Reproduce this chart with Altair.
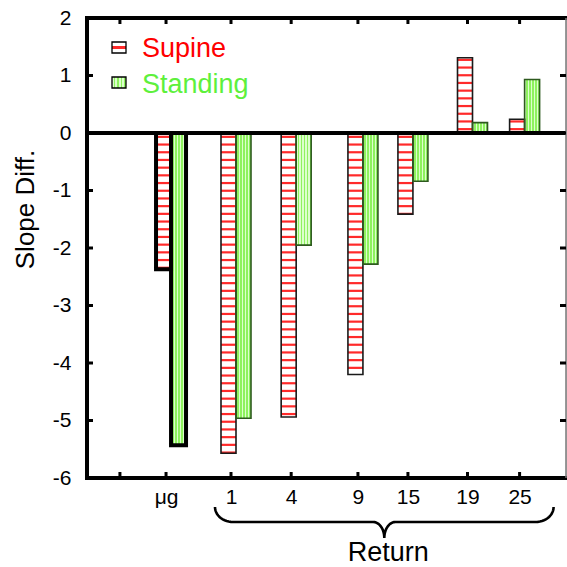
import altair as alt
import numpy as np
import pandas as pd

# ---------------- data ----------------
groups = ["μg", "1", "4", "9", "15", "19", "25"]
group_pos = [1.32, 2.405, 3.41, 4.525, 5.36, 6.355, 7.225]
blank_tick_pos = [0.55]
supine = [-2.37, -5.57, -4.94, -4.20, -1.41, 1.31, 0.24]
standing = [-5.43, -4.96, -1.95, -2.28, -0.84, 0.18, 0.93]
series_names = ["Supine", "Standing"]
y_tick_values = [-6, -5, -4, -3, -2, -1, 0, 1, 2]
y_inner_ticks = [-5, -4, -3, -2, -1, 0, 1]
x_title = "Return"
y_title = "Slope Diff."

# ---------------- style ----------------
W, H = 479, 460
X_DOMAIN = [0, 8]
Y_DOMAIN = [-6, 2]
PX_X = W / (X_DOMAIN[1] - X_DOMAIN[0])
PX_Y = H / (Y_DOMAIN[1] - Y_DOMAIN[0])
BAR_W = 15 / PX_X
PAIR_SHIFT = 5 / PX_X
NARROW = "Liberation Sans Narrow, Liberation Sans, Arial, sans-serif"
REG = "Liberation Sans, Arial, sans-serif"
RED = "#ff2a2a"
GREEN = "#8ef25e"
PALE = "#dcffcc"
TXT_GREEN = "#5ef03c"

rows = []
for g, p, a, b in zip(groups, group_pos, supine, standing):
    rows.append(dict(group=g, pos=p, series=series_names[0], value=a,
                     x0=p + PAIR_SHIFT - BAR_W, x1=p + PAIR_SHIFT))
    rows.append(dict(group=g, pos=p, series=series_names[1], value=b,
                     x0=p + PAIR_SHIFT, x1=p + PAIR_SHIFT + BAR_W))
bars_df = pd.DataFrame(rows)

x_scale = alt.Scale(domain=X_DOMAIN, nice=False, zero=False)
y_scale = alt.Scale(domain=Y_DOMAIN, nice=False, zero=False)

label_expr = " : ".join(
    f"abs(datum.value - {p}) < 0.001 ? '{g}'" for g, p in zip(groups, group_pos)
) + " : ''"

x_axis = alt.Axis(values=blank_tick_pos + group_pos, labelExpr=label_expr, ticks=False,
                  grid=False, title=None, domain=False,
                  labelFont=NARROW, labelFontSize=21,
                  labelColor="black", labelPadding=8, labelFlush=False,
                  labelOverlap=False, labelBound=False)
y_axis = alt.Axis(values=y_tick_values, labelExpr="'' + datum.value", ticks=False, grid=False,
                  title=y_title, titleFont=NARROW, titleFontSize=26,
                  titleFontWeight="normal", titleColor="black",
                  titleX=-62, titleY=191, titleAlign="center", titleBaseline="middle",
                  titleAngle=-90, domain=False,
                  labelFont=NARROW, labelFontSize=21, labelColor="black",
                  labelPadding=16, labelFlush=False, labelOverlap=False)


def stripe_gradient(n, vertical):
    stops = []
    for k in range(n):
        a = k / n
        b = a + 0.45 / n
        stops += [alt.GradientStop(offset=a, color=PALE),
                  alt.GradientStop(offset=b, color=PALE),
                  alt.GradientStop(offset=b, color=GREEN),
                  alt.GradientStop(offset=(k + 1) / n, color=GREEN)]
    if vertical:
        return alt.Gradient(gradient="linear", stops=stops, x1=0, x2=1, y1=0, y2=0)
    return alt.Gradient(gradient="linear", stops=stops, x1=0, x2=0, y1=0, y2=1)


green_fill = stripe_gradient(5, True)


def X(field):
    return alt.X(field, scale=x_scale, axis=x_axis)


def Y(field):
    return alt.Y(field, scale=y_scale, axis=y_axis)


base = alt.Chart(bars_df).transform_calculate(zero="0")

red_fill = base.transform_filter(f"datum.series == '{series_names[0]}'").mark_rect(
    fill="white").encode(
    x=X("x0:Q"), x2="x1", y=Y("value:Q"), y2="zero:Q",
)

red_stripes = base.transform_filter(f"datum.series == '{series_names[0]}'").transform_calculate(
    s=f"sequence({0.5 * 7.7 / PX_Y}, abs(datum.value), {7.7 / PX_Y})"
).transform_flatten(["s"]).transform_calculate(
    sy="datum.value < 0 ? -datum.s : datum.s"
).mark_rule(color=RED, strokeWidth=2.2).encode(
    x=X("x0:Q"), x2="x1", y=Y("sy:Q"),
)

green_bars = base.transform_filter(f"datum.series == '{series_names[1]}'").mark_rect(
    fill=green_fill).encode(
    x=X("x0:Q"), x2="x1", y=Y("value:Q"), y2="zero:Q",
)

outlines = base.transform_calculate(
    sc=f"datum.group == '{groups[0]}' ? 'black' : (datum.series == '{series_names[0]}' ? '#1a1a1a' : '#2d5a1e')",
    sw=f"datum.group == '{groups[0]}' ? 4 : 1.6",
).mark_rect(fill="white", fillOpacity=0).encode(
    x=X("x0:Q"), x2="x1", y=Y("value:Q"), y2="zero:Q",
    stroke=alt.Stroke("sc:N", scale=None, legend=None),
    strokeWidth=alt.StrokeWidth("sw:Q", scale=None, legend=None),
)

zero_df = pd.DataFrame({"y": [0]})
zero_line = alt.Chart(zero_df).mark_rule(color="black", strokeWidth=4).encode(
    y=Y("y:Q"), x=alt.value(0), x2=alt.value(W),
)

frame_df = pd.DataFrame({"k": [0]})
top_border = alt.Chart(frame_df).mark_rule(color="black", strokeWidth=4, strokeCap="square").encode(
    x=alt.value(0), x2=alt.value(W), y=alt.value(0))
bottom_border = alt.Chart(frame_df).mark_rule(color="black", strokeWidth=4, strokeCap="square").encode(
    x=alt.value(0), x2=alt.value(W), y=alt.value(H))
left_border = alt.Chart(frame_df).mark_rule(color="black", strokeWidth=4, strokeCap="square").encode(
    x=alt.value(0), y=alt.value(0), y2=alt.value(H))
right_border = alt.Chart(frame_df).mark_rule(color="#777777", strokeWidth=1.5).encode(
    x=alt.value(W), y=alt.value(0), y2=alt.value(H))

yt_df = pd.DataFrame({"v": y_inner_ticks})
left_ticks = alt.Chart(yt_df).mark_rule(color="black", strokeWidth=3).encode(
    y=Y("v:Q"), x=alt.value(0), x2=alt.value(6))
right_ticks = alt.Chart(yt_df).mark_rule(color="black", strokeWidth=3).encode(
    y=Y("v:Q"), x=alt.value(W - 6), x2=alt.value(W))

xt_df = pd.DataFrame({"p": blank_tick_pos + group_pos})
bottom_ticks = alt.Chart(xt_df).mark_rule(color="black", strokeWidth=3).encode(
    x=X("p:Q"), y=alt.value(H - 6), y2=alt.value(H))
top_ticks = alt.Chart(xt_df).mark_rule(color="black", strokeWidth=3).encode(
    x=X("p:Q"), y=alt.value(0), y2=alt.value(6))

# ---------------- brace under the "Return" groups ----------------
ret_first = group_pos[groups.index("1")]
ret_last = group_pos[groups.index("25")]
xL = ret_first - 16 / PX_X
xR = ret_last + 34 / PX_X
xT = (xL + xR) / 2
yEnd = Y_DOMAIN[0] - 29 / PX_Y
yMid = Y_DOMAIN[0] - 44 / PX_Y
yTip = Y_DOMAIN[0] - 60 / PX_Y
rx1 = 18 / PX_X
rx2 = 11 / PX_X
t = np.linspace(0, np.pi / 2, 14)
left_x = list(xL + rx1 * (1 - np.cos(t))) + list((xT - rx2) + rx2 * np.sin(t))
left_y = list(yEnd - (yEnd - yMid) * np.sin(t)) + list(yTip + (yMid - yTip) * np.cos(t))
right_x = [2 * xT - v for v in reversed(left_x)]
right_y = list(reversed(left_y))
brace_df = pd.DataFrame({"bx": left_x + right_x, "by": left_y + right_y,
                         "i": list(range(len(left_x) + len(right_x)))})
brace = alt.Chart(brace_df).mark_line(color="black", strokeWidth=2.6, clip=False).encode(
    x=X("bx:Q"), y=Y("by:Q"), order="i:Q",
)

ret_df = pd.DataFrame({"t": [x_title], "tx": [xT + 4 / PX_X], "ty": [Y_DOMAIN[0] - 83 / PX_Y]})
ret_text = alt.Chart(ret_df).mark_text(font=NARROW, fontSize=27, align="center",
                                       baseline="alphabetic", color="black").encode(
    x=X("tx:Q"), y=Y("ty:Q"), text="t:N",
)

# ---------------- legend ----------------
sup_grad = alt.Gradient(gradient="linear", x1=0, x2=0, y1=0, y2=1, stops=[
    alt.GradientStop(offset=0, color="white"), alt.GradientStop(offset=0.38, color="white"),
    alt.GradientStop(offset=0.38, color=RED), alt.GradientStop(offset=0.62, color=RED),
    alt.GradientStop(offset=0.62, color="white"), alt.GradientStop(offset=1, color="white")])
leg1 = pd.DataFrame({"label": [series_names[0]]})
leg2 = pd.DataFrame({"label": [series_names[1]]})
sw1 = alt.Chart(leg1).mark_rect(fill=sup_grad, stroke="black", strokeWidth=1.3).encode(
    x=alt.value(25), x2=alt.value(39), y=alt.value(24), y2=alt.value(35))
sw2 = alt.Chart(leg2).mark_rect(fill=stripe_gradient(4, True), stroke="black", strokeWidth=1.3).encode(
    x=alt.value(25), x2=alt.value(39), y=alt.value(59), y2=alt.value(70))
tx1 = alt.Chart(leg1).mark_text(font=REG, fontSize=27, align="left", baseline="alphabetic",
                                color="#ff0000").encode(
    x=alt.value(55), y=alt.value(39), text="label:N")
tx2 = alt.Chart(leg2).mark_text(font=REG, fontSize=27, align="left", baseline="alphabetic",
                                color=TXT_GREEN).encode(
    x=alt.value(55), y=alt.value(75), text="label:N")

chart = alt.layer(
    red_fill, red_stripes, green_bars, outlines, zero_line,
    top_border, bottom_border, left_border, right_border,
    left_ticks, right_ticks, bottom_ticks, top_ticks,
    brace, ret_text, sw1, sw2, tx1, tx2,
).properties(
    width=W, height=H,
    autosize=alt.AutoSizeParams(type="none"),
    padding={"left": 87, "top": 18, "right": 1, "bottom": 89},
).configure_view(stroke=None).configure(background="white")

chart.save("out.html", embed_options={"renderer": "svg", "actions": False})
